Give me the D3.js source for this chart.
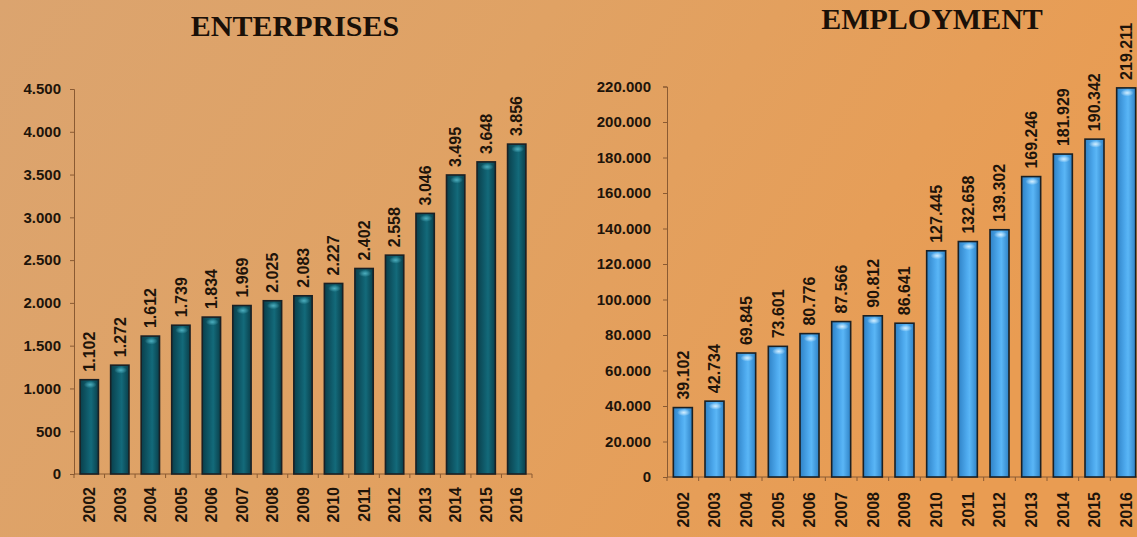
<!DOCTYPE html>
<html>
<head>
<meta charset="utf-8">
<script src="https://cdn.jsdelivr.net/npm/d3@7"></script>
<style>
  html, body { margin: 0; padding: 0; }
  body { width: 1137px; height: 537px; overflow: hidden; }
  svg { display: block; }
  text { font-family: "Liberation Sans", Arial, sans-serif; font-weight: bold; fill: #1e140a; }
  .title { font-family: "Liberation Serif", "Times New Roman", serif; font-size: 30px; fill: #1a1008; }
</style>
</head>
<body>
<svg id="chart" width="1137" height="537"></svg>
<script>
// Years shared by both panels
const years = ["2002","2003","2004","2005","2006","2007","2008","2009","2010","2011","2012","2013","2014","2015","2016"];

// Number of enterprises per year
const enterprises = [1102, 1272, 1612, 1739, 1834, 1969, 2025, 2083, 2227, 2402, 2558, 3046, 3495, 3648, 3856];

// Number of employees per year
const employment = [39102, 42734, 69845, 73601, 80776, 87566, 90812, 86641, 127445, 132658, 139302, 169246, 181929, 190342, 219211];

// Y-axis tick values
const enterpriseTicks = [0, 500, 1000, 1500, 2000, 2500, 3000, 3500, 4000, 4500];
const employmentTicks = [0, 20000, 40000, 60000, 80000, 100000, 120000, 140000, 160000, 180000, 200000, 220000];

// Panel titles
const titles = ["ENTERPRISES", "EMPLOYMENT"];

// Dotted thousands separator
const locale = d3.formatLocale({ decimal: ",", thousands: ".", grouping: [3], currency: ["", ""] });
const fmt = locale.format(",d");

const svg = d3.select("#chart");
const defs = svg.append("defs");

// Warm background wash, lighter on the left
const bg = defs.append("linearGradient").attr("id", "bg").attr("x1", 0).attr("y1", 0).attr("x2", 1).attr("y2", 0.3);
bg.append("stop").attr("offset", "0%").attr("stop-color", "#dba46f");
bg.append("stop").attr("offset", "45%").attr("stop-color", "#e0a264");
bg.append("stop").attr("offset", "100%").attr("stop-color", "#e99c52");
svg.append("rect").attr("width", 1137).attr("height", 537).attr("fill", "url(#bg)");

// Cylinder-like shading for the bars
function barGradient(id, edge, mid, light) {
  const g = defs.append("linearGradient").attr("id", id).attr("x1", 0).attr("x2", 1).attr("y1", 0).attr("y2", 0);
  g.append("stop").attr("offset", "0%").attr("stop-color", edge);
  g.append("stop").attr("offset", "45%").attr("stop-color", mid);
  g.append("stop").attr("offset", "60%").attr("stop-color", light);
  g.append("stop").attr("offset", "100%").attr("stop-color", edge);
}
barGradient("tealBar", "#0a3f4b", "#105f6f", "#136a7a");
barGradient("blueBar", "#2f82c6", "#4eaaee", "#5ab6f6");

function glow(id, color) {
  const r = defs.append("radialGradient").attr("id", id);
  r.append("stop").attr("offset", "0%").attr("stop-color", color).attr("stop-opacity", 0.95);
  r.append("stop").attr("offset", "100%").attr("stop-color", color).attr("stop-opacity", 0);
}
glow("tealGlow", "#4fb0c0");
glow("blueGlow", "#d8f0ff");

function panel(cfg) {
  const x = d3.scaleBand().domain(years).range([cfg.left, cfg.right]).paddingInner(0.4).paddingOuter(0.2);
  const y = d3.scaleLinear().domain([0, cfg.max]).range([cfg.bottom, cfg.top]);
  const g = svg.append("g");

  // Y axis
  const yAxis = d3.axisLeft(y).tickValues(cfg.ticks).tickFormat(fmt).tickSize(4).tickPadding(cfg.pad);
  const ya = g.append("g").attr("transform", `translate(${cfg.left},0)`).call(yAxis);
  ya.select(".domain").attr("stroke", "#8a5a32").attr("stroke-width", 1);
  ya.selectAll(".tick line").attr("stroke", "#8a5a32");
  ya.selectAll(".tick text").attr("font-size", 15).attr("font-family", null).attr("fill", "#1e140a");

  // X axis with tick marks between categories
  const xa = g.append("g").attr("transform", `translate(0,${cfg.bottom})`);
  xa.append("line").attr("x1", cfg.left).attr("x2", cfg.right).attr("stroke", "#8a5a32");
  xa.selectAll("line.sep").data(d3.range(years.length + 1)).join("line").attr("class", "sep")
    .attr("x1", i => cfg.left + i * (cfg.right - cfg.left) / years.length)
    .attr("x2", i => cfg.left + i * (cfg.right - cfg.left) / years.length)
    .attr("y1", 0).attr("y2", 4).attr("stroke", "#8a5a32");
  xa.selectAll("text.year").data(years).join("text").attr("class", "year")
    .attr("transform", d => `translate(${x(d) + x.bandwidth() / 2},${cfg.yearGap}) rotate(-90)`)
    .attr("text-anchor", "end").attr("dy", "0.36em").attr("font-size", 16).text(d => d);

  const data = years.map((d, i) => ({ year: d, v: cfg.values[i] }));

  // Bars
  g.selectAll("rect.bar").data(data).join("rect").attr("class", "bar")
    .attr("x", d => x(d.year)).attr("width", x.bandwidth())
    .attr("y", d => y(d.v)).attr("height", d => y(0) - y(d.v))
    .attr("fill", `url(#${cfg.grad})`).attr("stroke", "#1b2024").attr("stroke-width", 1.6);

  // Small sheen just below each bar top
  g.selectAll("ellipse.sheen").data(data).join("ellipse").attr("class", "sheen")
    .attr("cx", d => x(d.year) + x.bandwidth() * 0.55).attr("cy", d => y(d.v) + 5)
    .attr("rx", x.bandwidth() * 0.35).attr("ry", 3.5).attr("fill", `url(#${cfg.glow})`);

  // Value labels above bars
  g.selectAll("text.val").data(data).join("text").attr("class", "val")
    .attr("transform", d => `translate(${x(d.year) + x.bandwidth() / 2},${y(d.v) - 8}) rotate(-90)`)
    .attr("text-anchor", "start").attr("dy", "0.36em").attr("font-size", 16).text(d => fmt(d.v));

  // Title
  svg.append("text").attr("class", "title").attr("x", cfg.titleX).attr("y", cfg.titleY)
    .attr("text-anchor", "middle").text(cfg.title);
}

panel({ values: enterprises, ticks: enterpriseTicks, max: 4500, left: 74, right: 532, top: 89, bottom: 474,
        pad: 9, yearGap: 13, grad: "tealBar", glow: "tealGlow", title: titles[0], titleX: 295, titleY: 36 });
panel({ values: employment, ticks: employmentTicks, max: 220000, left: 667, right: 1142, top: 86.5, bottom: 477,
        pad: 12, yearGap: 15, grad: "blueBar", glow: "blueGlow", title: titles[1], titleX: 932, titleY: 29 });
</script>
</body>
</html>
